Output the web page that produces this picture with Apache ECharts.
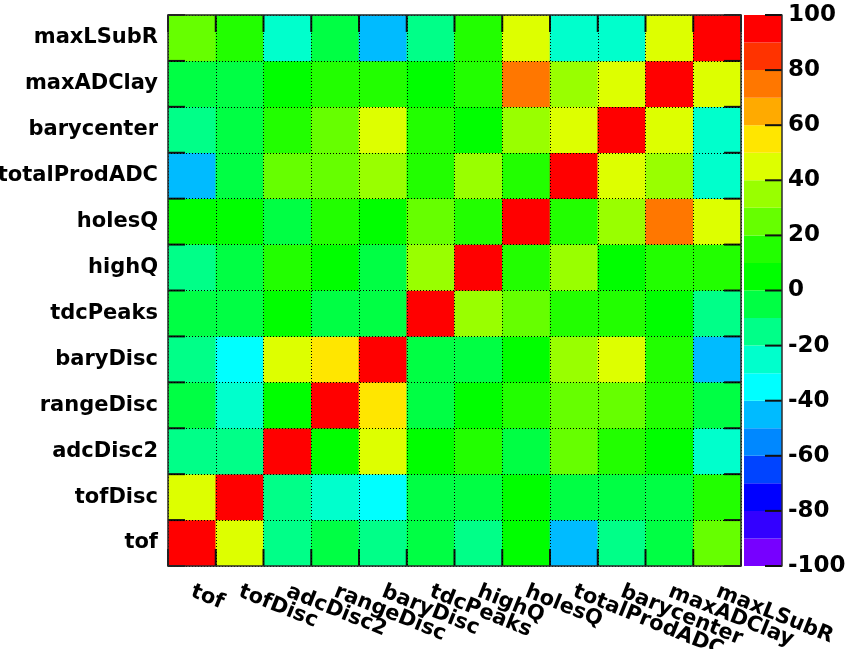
<!DOCTYPE html>
<html>
<head>
<meta charset="utf-8">
<script src="https://cdn.jsdelivr.net/npm/echarts@6/dist/echarts.min.js"></script>
<style>
  html, body { margin: 0; padding: 0; background: #ffffff; }
  #chart { width: 856px; height: 649px; }
</style>
</head>
<body>
<div id="chart"></div>
<script>
// Input variables of the classifier, in matrix order (x: left to right, y: bottom to top)
const variables = ['tof', 'tofDisc', 'adcDisc2', 'rangeDisc', 'baryDisc', 'tdcPeaks',
                   'highQ', 'holesQ', 'totalProdADC', 'barycenter', 'maxADClay', 'maxLSubR'];

// Linear correlation coefficients in %, one row per variable (columns in the same order)
const corrTof          = [100,  45, -15,  -5, -15,  -5, -15,   5, -45, -15,  -5,  25];
const corrTofDisc      = [ 45, 100, -15, -25, -35,  -5,  -5,   5,  -5,  -5,  -5,  15];
const corrAdcDisc2     = [-15, -15, 100,   5,  45,   5,  15,  -5,  25,  15,   5, -25];
const corrRangeDisc    = [ -5, -25,   5, 100,  55,  -5,   5,  15,  25,  25,  15,  -5];
const corrBaryDisc     = [-15, -35,  45,  55, 100,  -5,  -5,   5,  35,  45,  15, -45];
const corrTdcPeaks     = [ -5,  -5,   5,  -5,  -5, 100,  35,  25,  15,  15,   5, -15];
const corrHighQ        = [-15,  -5,  15,   5,  -5,  35, 100,  15,  35,   5,  15,  15];
const corrHolesQ       = [  5,   5,  -5,  15,   5,  25,  15, 100,  15,  35,  75,  45];
const corrTotalProdADC = [-45,  -5,  25,  25,  35,  15,  35,  15, 100,  45,  35, -25];
const corrBarycenter   = [-15,  -5,  15,  25,  45,  15,   5,  35,  45, 100,  45, -25];
const corrMaxADClay    = [ -5,  -5,   5,  15,  15,   5,  15,  75,  35,  45, 100,  45];
const corrMaxLSubR     = [ 25,  15, -25,  -5, -45, -15,  15,  45, -25, -25,  45, 100];

const corrRows = [corrTof, corrTofDisc, corrAdcDisc2, corrRangeDisc, corrBaryDisc, corrTdcPeaks,
                  corrHighQ, corrHolesQ, corrTotalProdADC, corrBarycenter, corrMaxADClay, corrMaxLSubR];

// Colour contours: 20 bands of width 10 between -100 and 100 (bottom to top)
const bandEdges = [-100, -90, -80, -70, -60, -50, -40, -30, -20, -10, 0,
                   10, 20, 30, 40, 50, 60, 70, 80, 90, 100];
const bandColors = ['#7700ff', '#3300ff', '#0000ff', '#0044ff', '#0088ff',
                    '#00bbff', '#00ffff', '#00ffcc', '#00ff88', '#00ff44',
                    '#00ff00', '#22ff00', '#66ff00', '#99ff00', '#ddff00',
                    '#ffe600', '#ffaa00', '#ff7700', '#ff3300', '#ff0000'];

// Labelled ticks of the colour scale
const scaleTicks = [-100, -80, -60, -40, -20, 0, 20, 40, 60, 80, 100];

// Heatmap cells: [column, row, value]
const cells = [];
corrRows.forEach((row, i) => row.forEach((v, j) => cells.push([j, i, v])));

// Piecewise colour map from the contour bands
const pieces = bandColors.map((c, k) => {
  const p = { gte: bandEdges[k], color: c };
  if (k === bandColors.length - 1) p.lte = bandEdges[k + 1]; else p.lt = bandEdges[k + 1];
  return p;
});

// Colour-bar segments: [low edge, high edge, band index]
const barSegments = bandColors.map((c, k) => [bandEdges[k], bandEdges[k + 1], k]);

const TICK_LEN = 17;
const labelFont = { fontFamily: 'DejaVu Sans', fontWeight: 'bold', fontSize: 21, color: '#000' };
const frameLine = () => ({ show: true, onZero: false, lineStyle: { color: '#2b2b2b', width: 1.5 } });
const gridDots = () => ({ show: true, lineStyle: { color: '#000', width: 1, type: [1, 2] } });

function seg(x1, y1, x2, y2) {
  return { type: 'line', shape: { x1: x1, y1: y1, x2: x2, y2: y2 },
           style: { stroke: '#111', lineWidth: 2 } };
}

const chart = echarts.init(document.getElementById('chart'), null, { renderer: 'canvas' });

chart.setOption({
  animation: false,
  backgroundColor: '#ffffff',
  grid: [
    { left: 168, top: 15, width: 573, height: 551, outerBoundsMode: 'none' },
    { left: 744, top: 15, width: 38, height: 551, outerBoundsMode: 'none' }
  ],
  xAxis: [
    {
      type: 'category', gridIndex: 0, data: variables, position: 'bottom', zlevel: 1, z: 10,
      axisLine: frameLine(), axisTick: { show: false }, splitLine: gridDots(),
      axisLabel: Object.assign({ interval: 0, rotate: -22, margin: 25 }, labelFont)
    },
    {
      type: 'category', gridIndex: 0, data: variables, position: 'top', zlevel: 1, z: 10,
      axisLine: frameLine(), axisTick: { show: false }, splitLine: { show: false },
      axisLabel: { show: false }
    },
    {
      type: 'value', gridIndex: 1, min: 0, max: 1, show: false
    }
  ],
  yAxis: [
    {
      type: 'category', gridIndex: 0, data: variables, position: 'left', zlevel: 1, z: 10,
      axisLine: frameLine(), axisTick: { show: false }, splitLine: gridDots(),
      axisLabel: Object.assign({ interval: 0, margin: 10 }, labelFont)
    },
    {
      type: 'category', gridIndex: 0, data: variables, position: 'right', zlevel: 1, z: 10,
      axisLine: frameLine(), axisTick: { show: false }, splitLine: { show: false },
      axisLabel: { show: false }
    },
    {
      type: 'value', gridIndex: 1, position: 'right', min: -100, max: 100, interval: 20,
      zlevel: 1, z: 10,
      axisLine: frameLine(), axisTick: { show: false }, splitLine: { show: false },
      axisLabel: Object.assign({}, labelFont, { margin: 6, fontSize: 23 })
    }
  ],
  visualMap: {
    type: 'piecewise', show: false, seriesIndex: 0, dimension: 2, pieces: pieces
  },
  series: [
    {
      type: 'heatmap', xAxisIndex: 0, yAxisIndex: 0, data: cells,
      itemStyle: { borderWidth: 0 },
      emphasis: { disabled: true }
    },
    {
      // colour scale
      type: 'custom', xAxisIndex: 2, yAxisIndex: 2, data: barSegments, silent: true,
      encode: { y: [0, 1] },
      renderItem: function (params, api) {
        const lo = api.coord([0, api.value(0)]);
        const hi = api.coord([1, api.value(1)]);
        return {
          type: 'rect',
          shape: { x: lo[0], y: hi[1], width: hi[0] - lo[0], height: lo[1] - hi[1] },
          style: { fill: bandColors[api.value(2)] }
        };
      }
    },
    {
      // inward ticks on all four sides of the matrix, at the bin edges
      type: 'custom', xAxisIndex: 0, yAxisIndex: 0, z: 20, silent: true, clip: false,
      data: variables.map((v, k) => [k, k]),
      encode: { x: 0, y: 1 },
      renderItem: function (params, api) {
        const k = api.value(0);
        const c = api.coord([k, k]);
        const s = api.size([1, 1]);
        const g = params.coordSys;
        const xs = [c[0] - s[0] / 2];
        const ys = [c[1] + s[1] / 2];
        if (k === variables.length - 1) { xs.push(c[0] + s[0] / 2); ys.push(c[1] - s[1] / 2); }
        const children = [];
        xs.forEach(x => {
          children.push(seg(x, g.y + g.height, x, g.y + g.height - TICK_LEN));
          children.push(seg(x, g.y, x, g.y + TICK_LEN));
        });
        ys.forEach(y => {
          children.push(seg(g.x, y, g.x + TICK_LEN, y));
          children.push(seg(g.x + g.width, y, g.x + g.width - TICK_LEN, y));
        });
        return { type: 'group', children: children };
      }
    },
    {
      // inward ticks on the colour scale
      type: 'custom', xAxisIndex: 2, yAxisIndex: 2, z: 20, silent: true, clip: false,
      data: scaleTicks.map(v => [1, v]),
      encode: { x: 0, y: 1 },
      renderItem: function (params, api) {
        const p = api.coord([1, api.value(1)]);
        return seg(p[0], p[1], p[0] - TICK_LEN, p[1]);
      }
    }
  ]
});
</script>
</body>
</html>
